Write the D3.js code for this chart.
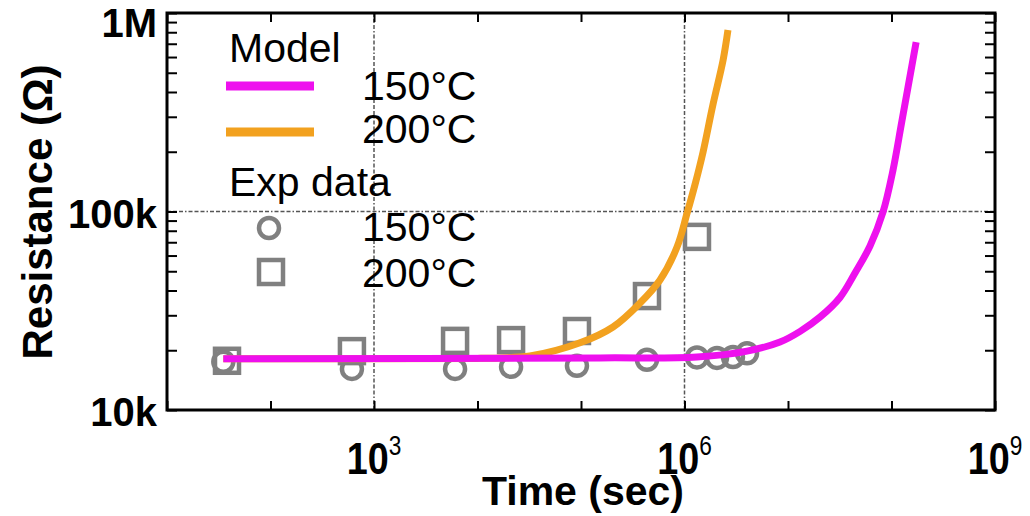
<!DOCTYPE html>
<html>
<head>
<meta charset="utf-8">
<script src="https://cdn.jsdelivr.net/npm/d3@7"></script>
<style>
  body { margin: 0; background: #fff; }
  text { font-family: "Liberation Sans", Arial, Helvetica, sans-serif; }
</style>
</head>
<body>
<div id="chart"></div>
<script>
// experimental data, 150 C (circles)
const exp150Time = [35, 612, 6070, 21100, 91400, 434000, 1.32e6, 2.06e6, 2.94e6, 4.02e6];
const exp150Res  = [17.5e3, 16.1e3, 16.1e3, 16.5e3, 16.7e3, 17.9e3, 18.4e3, 18.3e3, 18.5e3, 19.3e3];
// experimental data, 200 C (squares)
const exp200Time = [38, 612, 6070, 21100, 91400, 434000, 1.32e6];
const exp200Res  = [17.7e3, 19.8e3, 22.3e3, 22.5e3, 25.0e3, 37.5e3, 74.5e3];
// model curves
const model150Time = [35, 1.53e5, 1.32e6, 4.02e6, 8.37e6, 1.31e7, 2.04e7, 3.18e7, 4.44e7, 6.20e7, 8.28e7, 1.03e8, 1.26e8, 1.73e8];
const model150Res  = [18.1e3, 18.3e3, 18.5e3, 19.8e3, 22.0e3, 24.9e3, 29.4e3, 36.9e3, 49.0e3, 67.0e3, 99.4e3, 160e3, 285e3, 714e3];
const model200Time = [35, 1e4, 1.65e4, 3.21e4, 9.78e4, 2.04e5, 3.72e5, 5.80e5, 8.47e5, 1.06e6, 1.26e6, 1.51e6, 1.88e6, 2.36e6, 2.63e6];
const model200Res  = [18.1e3, 18.2e3, 18.3e3, 18.7e3, 21.8e3, 26.2e3, 34.6e3, 45.2e3, 66.2e3, 98.2e3, 136e3, 199e3, 344e3, 579e3, 820e3];

const xTicks = [1e3, 1e6, 1e9];
const xTickExp = ["3", "6", "9"];
const yTicks = [1e4, 1e5, 1e6];
const yTickLabels = ["10k", "100k", "1M"];
const xGrid = [1e3, 1e6];
const yGrid = [1e5];

const modelLabels = ["150°C", "200°C"];
const modelColors = ["#ee10ee", "#f2a11f"];
const expLabels = ["150°C", "200°C"];

const w = 1030, h = 516;
const pLeft = 167, pRight = 995, pTop = 13, pBottom = 410;
const grey = "#808080";

const svg = d3.select("#chart").append("svg")
  .attr("width", w).attr("height", h);

const xScale = d3.scaleLog().domain([10, 1e9]).range([pLeft, pRight]);
const yScale = d3.scaleLog().domain([1e4, 1e6]).range([pBottom, pTop]);

// grid
svg.selectAll(".gx").data(xGrid).enter().append("line")
  .attr("x1", d => xScale(d)).attr("x2", d => xScale(d))
  .attr("y1", pTop).attr("y2", pBottom)
  .attr("stroke", "#555").attr("stroke-width", 1.5)
  .attr("stroke-dasharray", "4,2,4,2,4,2,1.5,2");
svg.selectAll(".gy").data(yGrid).enter().append("line")
  .attr("x1", pLeft).attr("x2", pRight)
  .attr("y1", d => yScale(d)).attr("y2", d => yScale(d))
  .attr("stroke", "#555").attr("stroke-width", 1.5)
  .attr("stroke-dasharray", "4,2,4,2,4,2,1.5,2");

// ticks (inward)
const xMajor = d3.range(1, 10).map(e => Math.pow(10, e));
svg.append("g").attr("transform", "translate(0," + pBottom + ")")
  .call(d3.axisBottom(xScale).tickValues(xMajor).tickSize(-9).tickFormat(""))
  .call(g => g.select(".domain").remove());
svg.append("g").attr("transform", "translate(0," + pTop + ")")
  .call(d3.axisTop(xScale).tickValues(xMajor).tickSize(-9).tickFormat(""))
  .call(g => g.select(".domain").remove());
svg.append("g").attr("transform", "translate(" + pLeft + ",0)")
  .call(d3.axisLeft(yScale).tickValues(yScale.ticks()).tickSize(-10).tickFormat(""))
  .call(g => g.select(".domain").remove());
svg.append("g").attr("transform", "translate(" + pRight + ",0)")
  .call(d3.axisRight(yScale).tickValues(yScale.ticks()).tickSize(-10).tickFormat(""))
  .call(g => g.select(".domain").remove());
svg.selectAll(".tick line").attr("stroke", "#000").attr("stroke-width", 2);

// exp markers
svg.selectAll(".c150").data(exp150Time).enter().append("circle")
  .attr("cx", d => xScale(d))
  .attr("cy", (d, i) => yScale(exp150Res[i]))
  .attr("r", 10)
  .attr("fill", "none").attr("stroke", grey).attr("stroke-width", 4.5);
svg.selectAll(".s200").data(exp200Time).enter().append("rect")
  .attr("x", d => xScale(d) - 12)
  .attr("y", (d, i) => yScale(exp200Res[i]) - 12)
  .attr("width", 24).attr("height", 24)
  .attr("fill", "none").attr("stroke", grey).attr("stroke-width", 4.5);

// model lines
const line = d3.line().curve(d3.curveCatmullRom.alpha(0.5));
const pts200 = model200Time.map((t, i) => [xScale(t), yScale(model200Res[i])]);
const pts150 = model150Time.map((t, i) => [xScale(t), yScale(model150Res[i])]);
svg.append("path").attr("d", line(pts200))
  .attr("fill", "none").attr("stroke", modelColors[1]).attr("stroke-width", 7);
svg.append("path").attr("d", line(pts150))
  .attr("fill", "none").attr("stroke", modelColors[0]).attr("stroke-width", 7);

// frame
svg.append("rect")
  .attr("x", pLeft).attr("y", pTop)
  .attr("width", pRight - pLeft).attr("height", pBottom - pTop)
  .attr("fill", "none").attr("stroke", "#000").attr("stroke-width", 3);

// y tick labels
svg.selectAll(".ylab").data(yTicks).enter().append("text")
  .attr("x", pLeft - 10)
  .attr("y", d => Math.max(yScale(d) + 16, 37))
  .attr("text-anchor", "end")
  .attr("font-size", 40).attr("font-weight", "bold")
  .text((d, i) => yTickLabels[i]);

// x tick labels (slightly narrow, as in the original)
const xl = svg.selectAll(".xlab").data(xTicks).enter().append("text")
  .attr("transform", d => "translate(" + xScale(d) + ",474) scale(0.84,1)")
  .attr("text-anchor", "middle")
  .attr("font-weight", "bold");
xl.append("tspan").attr("font-size", 45).text("10");
xl.append("tspan").attr("font-size", 27).attr("font-weight", "normal")
  .attr("dy", -19).text((d, i) => xTickExp[i]);

// axis titles
svg.append("text")
  .attr("x", 583).attr("y", 505)
  .attr("text-anchor", "middle")
  .attr("font-size", 41).attr("font-weight", "bold")
  .text("Time (sec)");
svg.append("text")
  .attr("transform", "translate(52,212) rotate(-90)")
  .attr("text-anchor", "middle")
  .attr("font-size", 42).attr("font-weight", "bold")
  .text("Resistance (Ω)");

// legend
const lg = svg.append("g").attr("font-size", 41);
lg.append("text").attr("x", 229).attr("y", 62).text("Model");
modelLabels.forEach(function(lab, i) {
  const yy = 86 + i * 46;
  lg.append("line").attr("x1", 226).attr("x2", 314).attr("y1", yy).attr("y2", yy)
    .attr("stroke", modelColors[i]).attr("stroke-width", 9);
  lg.append("text").attr("x", 362).attr("y", 100 + i * 43).text(lab);
});
lg.append("text").attr("x", 229).attr("y", 196).text("Exp data");
lg.append("circle").attr("cx", 269).attr("cy", 228).attr("r", 10)
  .attr("fill", "none").attr("stroke", grey).attr("stroke-width", 4.5);
lg.append("rect").attr("x", 259).attr("y", 260).attr("width", 24).attr("height", 24)
  .attr("fill", "none").attr("stroke", grey).attr("stroke-width", 4.5);
expLabels.forEach(function(lab, i) {
  lg.append("text").attr("x", 362).attr("y", 241 + i * 46).text(lab);
});
</script>
</body>
</html>
